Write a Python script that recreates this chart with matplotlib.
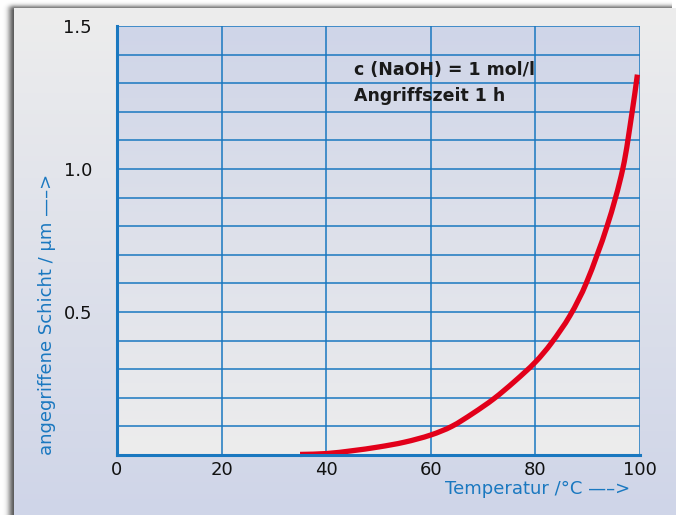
import numpy as np
import matplotlib.pyplot as plt
from matplotlib.colors import to_rgb
from matplotlib.path import Path
from matplotlib.patches import PathPatch

# corrosion depth vs. temperature, c(NaOH) = 1 mol/l, 1 h
temp = [35, 40, 45, 50, 55, 60, 64, 68, 72, 76, 80, 83, 86.6, 89.7, 93.7, 96.7, 98.5, 99.5]
depth = [0.002, 0.005, 0.015, 0.028, 0.045, 0.07, 0.10, 0.145, 0.196, 0.257,
         0.325, 0.39, 0.487, 0.6, 0.8, 1.0, 1.2, 1.33]

x_ticks = [0, 20, 40, 60, 80, 100]
x_ticklabels = ["0", "20", "40", "60", "80", "100"]
y_ticks = [0.5, 1.0, 1.5]
y_ticklabels = ["0.5", "1.0", "1.5"]

W, H = 680, 515
blue = "#1a78c0"
red = "#e2001a"
lav = np.array(to_rgb("#cfd5e8"))
grey = np.array(to_rgb("#ededed"))


def smooth_path(xs, ys, sx=5.23, sy=286.0):
    # cubic Hermite through the points, tangents from chord lengths in pixels
    p = np.column_stack([xs, ys]).astype(float)
    q = p * [sx, sy]
    t = np.concatenate([[0], np.cumsum(np.hypot(*np.diff(q, axis=0).T))])
    m = np.zeros_like(p)
    m[1:-1] = (p[2:] - p[:-2]) / (t[2:] - t[:-2])[:, None]
    m[0] = (p[1] - p[0]) / (t[1] - t[0])
    m[-1] = (p[-1] - p[-2]) / (t[-1] - t[-2])
    verts = [p[0]]
    codes = [Path.MOVETO]
    for i in range(len(p) - 1):
        h = t[i + 1] - t[i]
        verts += [p[i] + m[i] * h / 3, p[i + 1] - m[i + 1] * h / 3, p[i + 1]]
        codes += [Path.CURVE4] * 3
    return Path(verts, codes)


fig = plt.figure(figsize=(W / 100, H / 100), dpi=100)

# background: panel with vertical gradient and a soft drop shadow
bg = np.ones((H, W, 3))
yy, xx = np.mgrid[0:H, 0:W]
px0, py0, px1 = 14, 8, 676
dx = np.clip(px0 - xx, 0, None)
dy = np.clip(py0 - yy, 0, None)
shade = np.exp(-(dx / 6.0) ** 2) * np.exp(-(dy / 4.0) ** 2)
shade *= (xx < px0 + 2) | (yy < py0 + 2)
shade *= (xx < px1 - 4)
shade = shade * 0.65 * np.clip((yy + 4) / 14, 0, 1) * np.clip((xx + 6) / 14, 0, 1)
bg = bg * (1 - shade[..., None])
tt = np.clip((yy - py0) / (H - py0), 0, 1)[..., None]
panel = grey * (1 - tt) + lav * tt
inside = (xx >= px0) & (xx < px1) & (yy >= py0)
bg[inside] = panel[inside]
bax = fig.add_axes([0, 0, 1, 1])
bax.imshow(bg, extent=[0, W, H, 0], aspect="auto", interpolation="bilinear")
bax.set_xlim(0, W)
bax.set_ylim(H, 0)
bax.axis("off")

ax = fig.add_axes([117 / W, 60 / H, 523 / W, 429 / H])
grad = np.linspace(0, 1, 256)[:, None, None]
ax.imshow(lav * (1 - grad) + grey * grad, extent=[0, 100, 0, 1.5],
          aspect="auto", zorder=0, interpolation="bilinear")

for gx in range(20, 101, 20):
    ax.axvline(gx, color=blue, lw=1.1, zorder=1)
for gy in np.arange(1, 16) / 10:
    ax.axhline(gy, color=blue, lw=1.1, zorder=1)

ax.add_patch(PathPatch(smooth_path(temp, depth), fill=False, edgecolor=red,
                       lw=3.8, capstyle="butt", joinstyle="round", zorder=3,
                       clip_on=False))

ax.set_xlim(0, 100)
ax.set_ylim(0, 1.5)
for side in ["top", "right"]:
    ax.spines[side].set_visible(False)
for side in ["left", "bottom"]:
    ax.spines[side].set_color(blue)
    ax.spines[side].set_linewidth(2.2)
    ax.spines[side].set_zorder(4)

ax.set_xticks(x_ticks, x_ticklabels)
ax.set_yticks(y_ticks, y_ticklabels)
ax.tick_params(length=0, labelsize=13, labelcolor="#111111")
ax.tick_params(axis="x", pad=4)
ax.tick_params(axis="y", pad=18)

ax.text(45.3, 1.345, "c (NaOH) = 1 mol/l", fontsize=12.5, va="center",
        color="#1a1a1a", fontweight="semibold")
ax.text(45.3, 1.255, "Angriffszeit 1 h", fontsize=12.5, va="center",
        color="#1a1a1a", fontweight="semibold")

fig.text(630 / W, 1 - 489 / H, "Temperatur /°C \u2014\u2013>", color=blue,
         fontsize=13, ha="right", va="center")
fig.text(47 / W, 1 - 455 / H, "angegriffene Schicht / µm \u2014\u2013>", color=blue,
         fontsize=13, ha="center", va="bottom", rotation=90)

fig.savefig("out.png", dpi=100)
